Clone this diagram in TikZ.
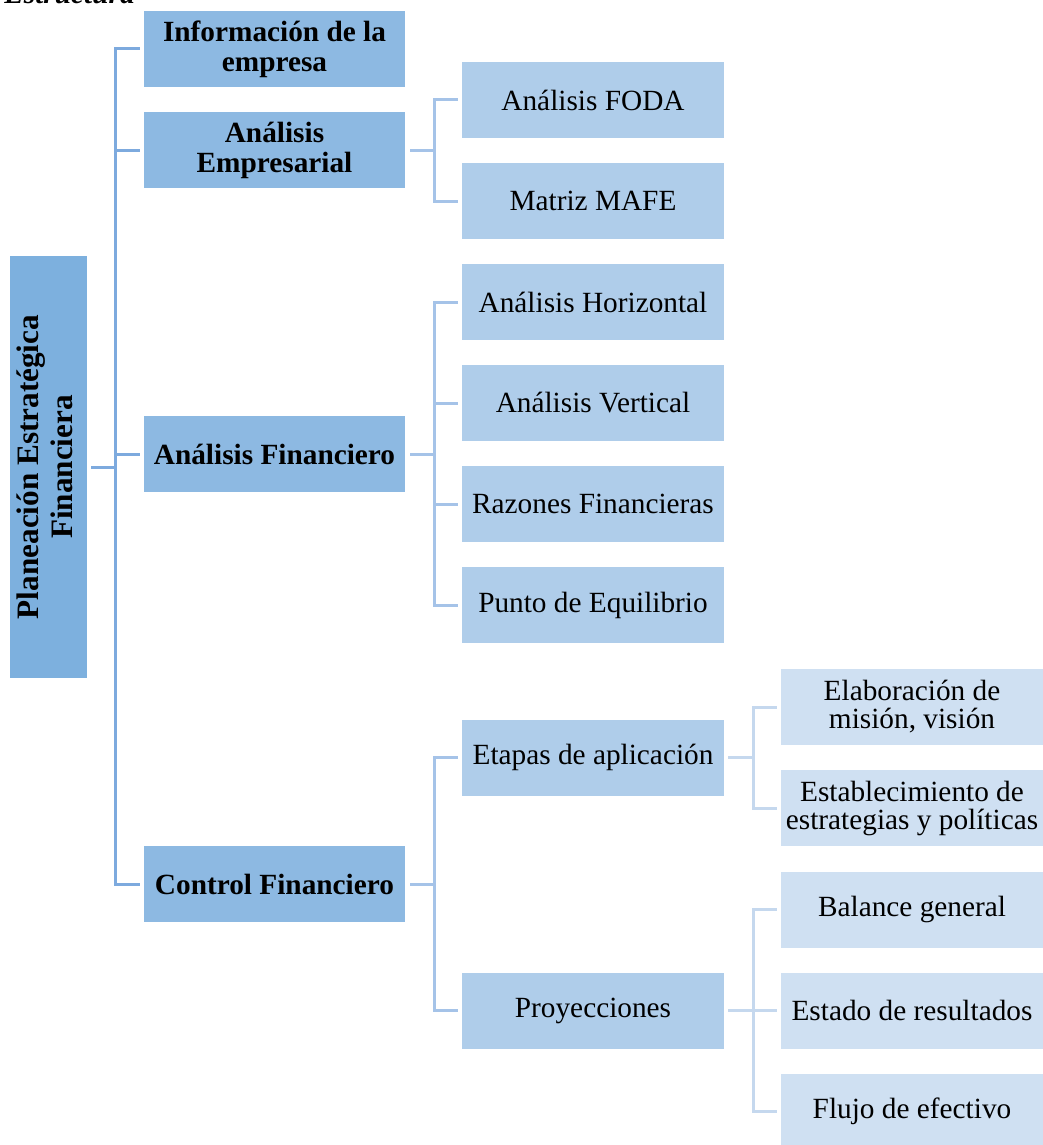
\documentclass[tikz,border=0pt]{standalone}
\usepackage{fontspec}
\setmainfont{Liberation Serif}
\definecolor{rootfill}{RGB}{125,176,222}
\definecolor{onefill}{RGB}{141,185,226}
\definecolor{twofill}{RGB}{175,205,234}
\definecolor{threefill}{RGB}{207,224,242}
\definecolor{lineone}{RGB}{125,170,222}
\definecolor{linetwo}{RGB}{165,195,232}
\definecolor{linethree}{RGB}{197,216,238}
\newcommand\boldfnt{\fontsize{14.65pt}{15pt}\selectfont\bfseries}
\newcommand\rootfnt{\fontsize{15.6pt}{17pt}\selectfont\bfseries}
\newcommand\plainfnt{\fontsize{14.65pt}{14pt}\selectfont}
\begin{document}
\begin{tikzpicture}[x=0.5pt,y=-0.5pt,
  box/.style={rectangle, inner sep=0pt, align=center, minimum height=38pt},
  rootbox/.style={rectangle, inner sep=0pt, fill=rootfill, minimum width=38.5pt, minimum height=211pt, font=\rootfnt},
  lvlone/.style={box, fill=onefill, minimum width=130.5pt, font=\boldfnt},
  lvltwo/.style={box, fill=twofill, minimum width=131pt, font=\plainfnt},
  lvlthree/.style={box, fill=threefill, minimum width=131pt, font=\plainfnt},
  trunk/.style={draw=lineone, line width=1.5pt},
  branchtwo/.style={draw=linetwo, line width=1.5pt},
  branchthree/.style={draw=linethree, line width=1.5pt}]
\useasboundingbox (0,0) rectangle (1043,1145);
\clip (0,0) rectangle (1043,1145);

% caption above the chart
\node[anchor=base west, inner sep=0pt, font=\fontsize{14.65pt}{15pt}\selectfont\bfseries\itshape] (title) at (4,3.5) {Estructura};

% root
\node[rootbox] (root) at (48.5,467) {\rotatebox{90}{\begin{tabular}{@{}c@{}}Planeación Estratégica\\Financiera\end{tabular}}};

% first level
\node[lvlone] (info) at (274.5,49)  {Información de la\\empresa};
\node[lvlone] (empr) at (274.5,150) {Análisis\\Empresarial};
\node[lvlone] (fin)  at (274.5,454) {Análisis Financiero};
\node[lvlone] (ctrl) at (274.5,884) {Control Financiero};

% second level
\node[lvltwo] (foda)    at (593,100)    {Análisis FODA};
\node[lvltwo] (mafe)    at (593,201)    {Matriz MAFE};
\node[lvltwo] (horiz)   at (593,302)    {Análisis Horizontal};
\node[lvltwo] (vert)    at (593,403)    {Análisis Vertical};
\node[lvltwo] (razones) at (593,504)    {Razones Financieras};
\node[lvltwo] (punto)   at (593,605)    {Punto de Equilibrio};
\node[lvltwo] (etapas)  at (593,757.5)  {Etapas de aplicación};
\node[lvltwo] (proy)    at (593,1010.5) {Proyecciones};

% third level
\node[lvlthree] (elab)    at (912,707)    {Elaboración de\\misión, visión};
\node[lvlthree] (estab)   at (912,808)    {Establecimiento de\\estrategias y políticas};
\node[lvlthree] (balance) at (912,909.5)  {Balance general};
\node[lvlthree] (estado)  at (912,1010.5) {Estado de resultados};
\node[lvlthree] (flujo)   at (912,1111.5) {Flujo de efectivo};

% connectors: root to first level
\coordinate (t0) at (115,467);
\draw[trunk] ([xshift=2pt]root.east) -- (t0);
\foreach \n in {info,empr,fin,ctrl}
  \draw[trunk] (t0) |- ([xshift=-2pt]\n.west);

% connectors: first to second level
\draw[branchtwo] ([xshift=2.5pt]empr.east) -- ([xshift=14.5pt]empr.east) coordinate (b1);
\foreach \n in {foda,mafe}
  \draw[branchtwo] (b1) |- ([xshift=-2pt]\n.west);
\draw[branchtwo] ([xshift=2.5pt]fin.east) -- ([xshift=14.5pt]fin.east) coordinate (b2);
\foreach \n in {horiz,vert,razones,punto}
  \draw[branchtwo] (b2) |- ([xshift=-2pt]\n.west);
\draw[branchtwo] ([xshift=2.5pt]ctrl.east) -- ([xshift=14.5pt]ctrl.east) coordinate (b3);
\foreach \n in {etapas,proy}
  \draw[branchtwo] (b3) |- ([xshift=-2pt]\n.west);

% connectors: second to third level
\draw[branchthree] ([xshift=2pt]etapas.east) -- ([xshift=14.5pt]etapas.east) coordinate (c1);
\foreach \n in {elab,estab}
  \draw[branchthree] (c1) |- ([xshift=-2pt]\n.west);
\draw[branchthree] ([xshift=2pt]proy.east) -- ([xshift=14.5pt]proy.east) coordinate (c2);
\foreach \n in {balance,estado,flujo}
  \draw[branchthree] (c2) |- ([xshift=-2pt]\n.west);
\end{tikzpicture}
\end{document}
